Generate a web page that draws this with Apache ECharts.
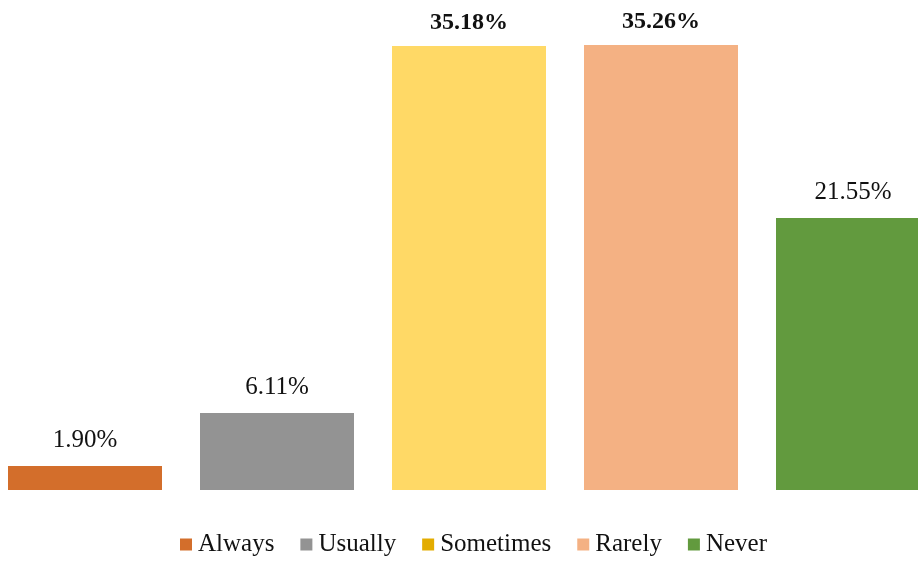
<!DOCTYPE html>
<html style="height: 100%">
<head>
<meta charset="utf-8">
<script src="https://cdn.jsdelivr.net/npm/echarts@6/dist/echarts.min.js"></script>
</head>
<body style="height: 100%; margin: 0; background: #fff">
<div id="container" style="width: 918px; height: 562px"></div>
<script>
var categories = ['Always', 'Usually', 'Sometimes', 'Rarely', 'Never'];
var values = [1.90, 6.11, 35.18, 35.26, 21.55];
var barColors = ['#D36E2B', '#939393', '#FFD966', '#F4B183', '#629A3E'];
var legendColors = ['#D36E2B', '#939393', '#E3AC00', '#F4B183', '#629A3E'];
var boldLabels = [false, false, true, true, false];

var font = '"Liberation Serif", "DejaVu Serif", serif';

var series = categories.map(function (name, i) {
    var data = categories.map(function () { return '-'; });
    data[i] = { value: values[i], itemStyle: { color: barColors[i] } };
    return {
        name: name,
        type: 'bar',
        stack: 'one',
        barWidth: 154,
        itemStyle: { color: legendColors[i] },
        label: {
            show: true,
            position: 'top',
            distance: boldLabels[i] ? 11 : 13,
            fontFamily: font,
            fontSize: boldLabels[i] ? 24 : 25,
            fontWeight: boldLabels[i] ? 'bold' : 'normal',
            color: '#111',
            formatter: function (p) { return p.value.toFixed(2) + '%'; }
        },
        data: data
    };
});

var chart = echarts.init(document.getElementById('container'));
chart.setOption({
    animation: false,
    grid: { left: -11, width: 960, top: 0, height: 490, outerBoundsMode: 'none' },
    xAxis: {
        type: 'category',
        data: categories,
        axisLine: { show: false },
        axisTick: { show: false },
        axisLabel: { show: false }
    },
    yAxis: {
        type: 'value',
        min: 0,
        max: 38.82,
        show: false,
        splitLine: { show: false }
    },
    legend: {
        top: 527,
        left: 175,
        itemWidth: 12,
        itemHeight: 12,
        itemGap: 26,
        icon: 'rect',
        textStyle: { fontFamily: font, fontSize: 25, color: '#111', padding: [0, 0, 0, 1] },
        data: categories
    },
    series: series
});
</script>
</body>
</html>
